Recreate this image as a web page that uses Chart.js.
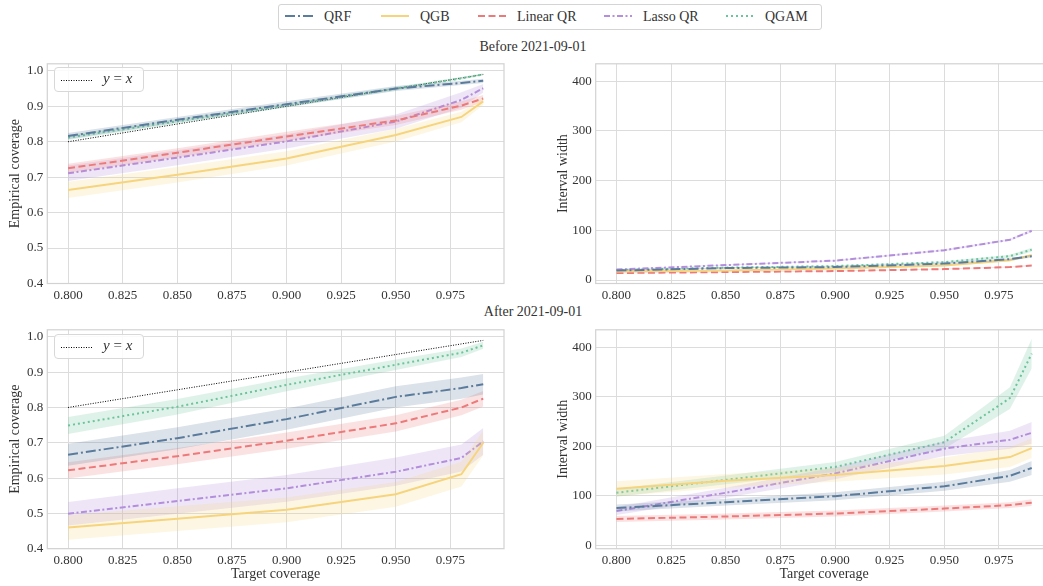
<!DOCTYPE html>
<html>
<head>
<meta charset="utf-8">
<script src="https://cdn.jsdelivr.net/npm/chart.js@4.4.1/dist/chart.umd.min.js"></script>
<style>
body { margin: 0; background: #fff; font-family: 'Liberation Serif', serif; color: #333; }
#page { position: relative; width: 1043px; height: 586px; overflow: hidden; }
canvas { position: absolute; }
.row-title { position: absolute; left: 383px; width: 300px; height: 18px; line-height: 18px; text-align: center; font-size: 14px; }
#legend { position: absolute; left: 278px; top: 4px; width: 544px; height: 26px; box-sizing: border-box;
  border: 1px solid #d4d4d4; border-radius: 3px; font-size: 14px; background: #fff; }
#legend .item { position: absolute; top: 0; height: 24px; line-height: 24px; white-space: nowrap; }
#legend svg { position: absolute; top: 9px; left: 0; }
#legend span { position: absolute; left: 39px; }
.yx { position: absolute; left: 54px; width: 90px; height: 25px; box-sizing: border-box; border: 1px solid #d8d8d8;
  border-radius: 4px; background: rgba(255,255,255,0.85); font-size: 15px; }
.yx svg { position: absolute; left: 6px; top: 11px; }
.yx span { position: absolute; left: 48px; top: 2px; }
</style>
</head>
<body>
<div id="page">
  <div class="row-title" style="top:38px">Before 2021-09-01</div>
  <div class="row-title" style="top:303px">After 2021-09-01</div>
  <canvas id="tl" width="520" height="254" style="left:0;top:52px"></canvas>
  <canvas id="tr" width="512" height="254" style="left:548px;top:52px"></canvas>
  <canvas id="bl" width="520" height="268" style="left:0;top:318px"></canvas>
  <canvas id="br" width="512" height="268" style="left:548px;top:318px"></canvas>
  <div class="yx" style="top:67px"><svg width="32" height="3"><line x1="0" y1="1.5" x2="32" y2="1.5" stroke="#000" stroke-width="1" stroke-dasharray="1,1.5"/></svg><span><i>y</i> = <i>x</i></span></div>
  <div class="yx" style="top:334px"><svg width="32" height="3"><line x1="0" y1="1.5" x2="32" y2="1.5" stroke="#000" stroke-width="1" stroke-dasharray="1,1.5"/></svg><span><i>y</i> = <i>x</i></span></div>
  <div id="legend"></div>
</div>
<script>
// target coverage levels (x values)
const targets = [0.80, 0.85, 0.90, 0.95, 0.98, 0.99];
const xTicks = [0.800, 0.825, 0.850, 0.875, 0.900, 0.925, 0.950, 0.975];
const coverageTicks = [0.4, 0.5, 0.6, 0.7, 0.8, 0.9, 1.0];
const widthTicks = [0, 100, 200, 300, 400];

const methods = ['QRF', 'QGB', 'Linear QR', 'Lasso QR', 'QGAM'];
const colors = ['#5b7c9d', '#f6d47e', '#ec7a7a', '#b38fdc', '#6cc49c'];
const dashes = [[10, 3, 2, 3], [], [7, 3.5], [6, 2.5, 2, 2.5], [2, 3]];

// empirical coverage, before 2021-09-01 (rows follow methods)
const coverageBefore = [
  [0.816, 0.862, 0.906, 0.950, 0.966, 0.972],
  [0.664, 0.707, 0.753, 0.819, 0.870, 0.914],
  [0.725, 0.769, 0.815, 0.860, 0.902, 0.922],
  [0.711, 0.755, 0.801, 0.857, 0.918, 0.951],
  [0.812, 0.858, 0.903, 0.950, 0.979, 0.990]
];
const coverageBeforeBand = [
  [0.009, 0.008, 0.008, 0.007, 0.006, 0.006],
  [0.023, 0.022, 0.020, 0.018, 0.015, 0.010],
  [0.013, 0.013, 0.013, 0.013, 0.012, 0.010],
  [0.022, 0.021, 0.020, 0.020, 0.022, 0.012],
  [0.007, 0.007, 0.006, 0.005, 0.004, 0.003]
];

// empirical coverage, after 2021-09-01
const coverageAfter = [
  [0.666, 0.713, 0.767, 0.830, 0.855, 0.866],
  [0.460, 0.485, 0.510, 0.554, 0.611, 0.700],
  [0.622, 0.662, 0.706, 0.755, 0.800, 0.825],
  [0.499, 0.535, 0.571, 0.618, 0.657, 0.704],
  [0.749, 0.802, 0.864, 0.921, 0.955, 0.976]
];
const coverageAfterBand = [
  [0.031, 0.031, 0.030, 0.030, 0.030, 0.029],
  [0.035, 0.035, 0.035, 0.035, 0.035, 0.035],
  [0.023, 0.023, 0.023, 0.023, 0.022, 0.022],
  [0.033, 0.036, 0.038, 0.040, 0.038, 0.038],
  [0.024, 0.022, 0.018, 0.015, 0.012, 0.010]
];

// interval width, before 2021-09-01
const widthBefore = [
  [19, 24, 26, 33, 42, 48],
  [17, 19, 23, 29, 40, 50],
  [14, 16, 18, 22, 26, 29],
  [21, 30, 39, 60, 81, 99],
  [20, 25, 28, 36, 48, 61]
];
const widthBeforeBand = [
  [1, 1, 1, 2, 2, 3],
  [1, 1, 1.5, 2, 2.5, 3],
  [1, 1, 1, 1, 1, 1.5],
  [1, 1, 1.5, 2, 2, 3],
  [1, 1, 1.5, 2, 3, 4]
];

// interval width, after 2021-09-01
const widthAfter = [
  [75, 87, 99, 119, 140, 156],
  [114, 130, 142, 160, 178, 196],
  [53, 58, 64, 74, 81, 86],
  [69, 106, 145, 195, 213, 227],
  [106, 132, 158, 208, 297, 387]
];
const widthAfterBand = [
  [7, 7, 8, 9, 12, 14],
  [15, 14, 14, 17, 20, 20],
  [6, 6, 6, 6, 6, 7],
  [8, 10, 12, 15, 18, 22],
  [8, 9, 10, 13, 22, 30]
];

const gridColor = '#dcdcdc';
const textColor = '#333';
const tickFont = { family: "'Liberation Serif', serif", size: 13 };
const titleFont = { family: "'Liberation Serif', serif", size: 14 };

function hexAlpha(hex, a) {
  const n = parseInt(hex.slice(1), 16);
  return 'rgba(' + (n >> 16) + ',' + ((n >> 8) & 255) + ',' + (n & 255) + ',' + a + ')';
}

function pts(values) {
  return targets.map(function(x, j) { return { x: x, y: values[j] }; });
}

function buildDatasets(means, bands, withIdentity) {
  const ds = [];
  methods.forEach(function(name, i) {
    const lo = means[i].map(function(v, j) { return v - bands[i][j]; });
    const hi = means[i].map(function(v, j) { return v + bands[i][j]; });
    ds.push({ data: pts(lo), borderWidth: 0, pointRadius: 0, fill: false });
    ds.push({ data: pts(hi), borderWidth: 0, pointRadius: 0, fill: '-1', backgroundColor: hexAlpha(colors[i], 0.22) });
    ds.push({ label: name, data: pts(means[i]), borderColor: colors[i], borderDash: dashes[i],
      borderWidth: 2, pointRadius: 0, fill: false, tension: 0 });
  });
  if (withIdentity) {
    // reference line y = x
    ds.push({ label: 'y = x', data: pts(targets), borderColor: '#000', borderDash: [1, 1.5],
      borderWidth: 1, pointRadius: 0, fill: false });
  }
  return ds;
}

const frame = {
  id: 'frame',
  beforeDatasetsDraw: function(chart) {
    const a = chart.chartArea;
    const ctx = chart.ctx;
    ctx.save();
    ctx.strokeStyle = '#d2d2d2';
    ctx.lineWidth = 1.2;
    ctx.strokeRect(a.left, a.top, a.right - a.left, a.bottom - a.top);
    ctx.restore();
  }
};

function makeChart(id, datasets, cfg) {
  new Chart(document.getElementById(id), {
    type: 'line',
    data: { datasets: datasets },
    plugins: [frame],
    options: {
      responsive: false,
      animation: false,
      events: [],
      layout: { padding: cfg.padding },
      plugins: { legend: { display: false }, tooltip: { enabled: false } },
      scales: {
        x: {
          type: 'linear', min: 0.7905, max: 0.9995,
          afterBuildTicks: function(s) { s.ticks = xTicks.map(function(v) { return { value: v }; }); },
          afterFit: function(s) { s.height = cfg.xHeight; },
          grid: { color: gridColor, lineWidth: 1, drawTicks: false },
          border: { display: false },
          ticks: { padding: 4, color: textColor, font: tickFont, maxRotation: 0, autoSkip: false,
            callback: function(v) { return v.toFixed(3); } },
          title: { display: cfg.xTitle, text: 'Target coverage', color: textColor, font: titleFont,
            padding: { top: 0, bottom: 3 } }
        },
        y: {
          type: 'linear', min: cfg.yMin, max: cfg.yMax,
          afterBuildTicks: function(s) { s.ticks = cfg.yTicks.map(function(v) { return { value: v }; }); },
          afterFit: function(s) { s.width = cfg.yWidth; },
          grid: { color: gridColor, lineWidth: 1, drawTicks: false },
          border: { display: false },
          ticks: { padding: 4, color: textColor, font: tickFont, callback: cfg.yFmt },
          title: { display: true, text: cfg.yTitle, color: textColor, font: titleFont,
            padding: { top: 7, bottom: 0 } }
        }
      }
    }
  });
}

const covFmt = function(v) { return v.toFixed(1); };
const widFmt = function(v) { return String(Math.round(v)); };

makeChart('tl', buildDatasets(coverageBefore, coverageBeforeBand, true), {
  padding: { top: 7.7, right: 16, bottom: 0, left: 0 }, xHeight: 22.5, xTitle: false,
  yMin: 0.4, yMax: 1.02, yTicks: coverageTicks, yFmt: covFmt, yWidth: 47.3, yTitle: 'Empirical coverage'
});
makeChart('tr', buildDatasets(widthBefore, widthBeforeBand, false), {
  padding: { top: 7.7, right: 7.5, bottom: 0, left: 0 }, xHeight: 22.5, xTitle: false,
  yMin: -7, yMax: 435, yTicks: widthTicks, yFmt: widFmt, yWidth: 47.7, yTitle: 'Interval width'
});
makeChart('bl', buildDatasets(coverageAfter, coverageAfterBand, true), {
  padding: { top: 8, right: 16, bottom: 0, left: 0 }, xHeight: 37.3, xTitle: true,
  yMin: 0.4, yMax: 1.02, yTicks: coverageTicks, yFmt: covFmt, yWidth: 47.3, yTitle: 'Empirical coverage'
});
makeChart('br', buildDatasets(widthAfter, widthAfterBand, false), {
  padding: { top: 8, right: 7.5, bottom: 0, left: 0 }, xHeight: 37.3, xTitle: true,
  yMin: -7, yMax: 435, yTicks: widthTicks, yFmt: widFmt, yWidth: 47.7, yTitle: 'Interval width'
});

// shared legend on top
const legend = document.getElementById('legend');
const itemLeft = [6, 102, 199, 325, 447];
methods.forEach(function(name, i) {
  const item = document.createElement('div');
  item.className = 'item';
  item.style.left = itemLeft[i] + 'px';
  item.innerHTML = '<svg width="28" height="4"><line x1="0" y1="2" x2="28" y2="2" stroke="' + colors[i] +
    '" stroke-width="2" stroke-dasharray="' + (dashes[i].length ? dashes[i].join(',') : 'none') + '"/></svg>' +
    '<span>' + name + '</span>';
  legend.appendChild(item);
});
</script>
</body>
</html>
